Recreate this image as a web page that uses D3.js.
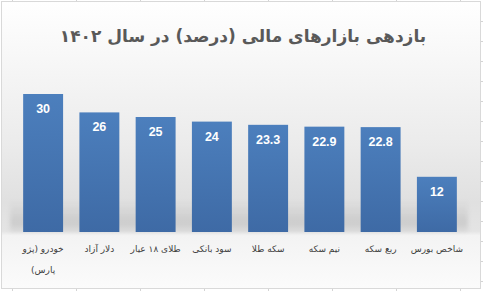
<!DOCTYPE html>
<html>
<head>
<meta charset="utf-8">
<script src="https://cdn.jsdelivr.net/npm/d3@7"></script>
<style>
  body { margin: 0; background: #fff; }
  svg { display: block; }
</style>
</head>
<body>
<script>
const categories = ['خودرو (پژو پارس)', 'دلار آزاد', 'طلای ۱۸ عیار', 'سود بانکی', 'سکه طلا', 'نیم سکه', 'ربع سکه', 'شاخص بورس'];
const values = [30, 26, 25, 24, 23.3, 22.9, 22.8, 12];
const title = 'بازدهی بازارهای مالی (درصد) در سال ۱۴۰۲';

const width = 483, height = 291;
const svg = d3.select('body').append('svg').attr('width', width).attr('height', height);
const defs = svg.append('defs');

// chart background gradient
let bg = defs.append('linearGradient').attr('id', 'bg').attr('x1', 0).attr('y1', 0).attr('x2', 0).attr('y2', 1);
[[0, '#ffffff'], [0.2, '#f7f7f7'], [0.5, '#ebebeb'], [0.7, '#e0e0e0'], [0.8, '#e4e4e4'], [0.815, '#f3f3f3'], [1, '#fbfbfb']]
  .forEach(s => bg.append('stop').attr('offset', s[0]).attr('stop-color', s[1]));

let bar = defs.append('linearGradient').attr('id', 'bar').attr('x1', 0).attr('y1', 0).attr('x2', 0).attr('y2', 1);
bar.append('stop').attr('offset', 0).attr('stop-color', '#4c7fbd');
bar.append('stop').attr('offset', 1).attr('stop-color', '#3e6aa5');

let sh = defs.append('linearGradient').attr('id', 'shade').attr('x1', 0).attr('y1', 0).attr('x2', 0).attr('y2', 1);
sh.append('stop').attr('offset', 0).attr('stop-color', '#000').attr('stop-opacity', 0);
sh.append('stop').attr('offset', 0.7).attr('stop-color', '#000').attr('stop-opacity', 0.1);
sh.append('stop').attr('offset', 1).attr('stop-color', '#000').attr('stop-opacity', 0.04);
defs.append('filter').attr('id', 'blur').append('feGaussianBlur').attr('stdDeviation', 2);

// spreadsheet cell lines outside the chart
const grid = svg.append('g').attr('stroke', '#d4d4d4');
d3.range(12, width, 64).forEach(x => {
  grid.append('line').attr('x1', x + 0.5).attr('x2', x + 0.5).attr('y1', 0).attr('y2', 1);
  grid.append('line').attr('x1', x + 0.5).attr('x2', x + 0.5).attr('y1', 289).attr('y2', height);
});
d3.range(21, height, 20).forEach(y => {
  grid.append('line').attr('x1', 481).attr('x2', width).attr('y1', y + 0.5).attr('y2', y + 0.5);
});

svg.append('rect')
  .attr('x', 1.5).attr('y', 1.5).attr('width', 479).attr('height', 287)
  .attr('fill', 'url(#bg)').attr('stroke', '#d9d9d9');

const x = d3.scaleBand().domain(categories).range([15, 465]).paddingInner(0.29).paddingOuter(0.145);
const y = d3.scaleLinear().domain([0, 35]).range([232, 71]);

// floor shadow band
svg.append('rect')
  .attr('x', 10).attr('width', 458)
  .attr('y', y(0) - 32).attr('height', 32)
  .attr('fill', 'url(#shade)').attr('filter', 'url(#blur)');

svg.append('text')
  .attr('x', 243).attr('y', 42)
  .attr('text-anchor', 'middle').attr('direction', 'rtl')
  .attr('font-family', 'DejaVu Sans').attr('font-weight', 'bold')
  .attr('font-size', 17).attr('fill', '#595959')
  .text(title);

const bars = svg.append('g').selectAll('g').data(categories).join('g');

bars.append('rect')
  .attr('x', d => x(d)).attr('width', x.bandwidth())
  .attr('y', (d, i) => y(values[i])).attr('height', (d, i) => y(0) - y(values[i]))
  .attr('fill', 'url(#bar)');

bars.append('text')
  .attr('x', d => x(d) + x.bandwidth() / 2)
  .attr('y', (d, i) => y(values[i]) + 19)
  .attr('text-anchor', 'middle')
  .attr('font-family', 'Liberation Sans').attr('font-weight', 'bold')
  .attr('font-size', 12.5).attr('fill', '#fff')
  .text((d, i) => values[i]);

// category labels under the bars
const xAxis = d3.axisBottom(x).tickSize(0).tickPadding(0);
const ax = svg.append('g').attr('transform', `translate(0,${y(0)})`).call(xAxis);
ax.select('.domain').remove();
ax.selectAll('text')
  .attr('y', 20).attr('dy', null)
  .attr('font-family', 'DejaVu Sans').attr('font-size', 9)
  .attr('fill', '#404040').attr('direction', 'rtl')
  .call(wrap, 60);

function wrap(texts, w) {
  texts.each(function () {
    const t = d3.select(this);
    const words = t.text().split(' ');
    const ty = t.attr('y');
    t.text(null);
    let line = [], n = 0;
    let tspan = t.append('tspan').attr('x', 0).attr('y', ty).attr('dy', 0);
    words.forEach(word => {
      line.push(word);
      tspan.text(line.join(' '));
      if (tspan.node().getComputedTextLength() > w && line.length > 1) {
        line.pop();
        tspan.text(line.join(' '));
        line = [word];
        n++;
        tspan = t.append('tspan').attr('x', 0).attr('y', ty).attr('dy', n * 21).text(word);
      }
    });
  });
}
</script>
</body>
</html>
